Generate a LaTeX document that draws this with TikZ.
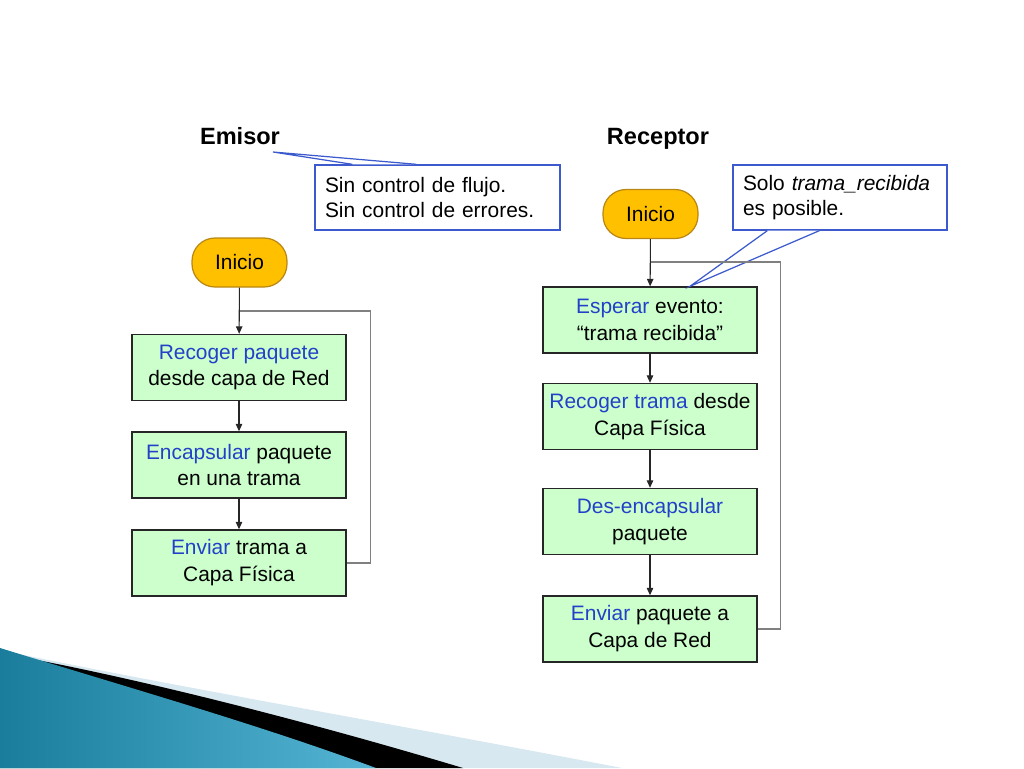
\documentclass[tikz,border=0pt]{standalone}
\usepackage{fontspec}
\setmainfont{Liberation Sans}
\usepackage{tikz}
\usetikzlibrary{arrows.meta, positioning}
\definecolor{verbblue}{RGB}{35,65,200}
\definecolor{boxgreen}{RGB}{204,255,204}
\definecolor{startyellow}{RGB}{255,192,0}
\definecolor{startedge}{RGB}{185,135,20}
\definecolor{noteblue}{RGB}{60,90,205}
\definecolor{swooshlight}{RGB}{215,232,240}
\definecolor{swooshdark}{RGB}{25,125,155}
\definecolor{swooshpale}{RGB}{85,180,212}
\tikzset{
    flowbox/.style={
        rectangle,
        draw=black!85,
        fill=boxgreen,
        line width=0.8pt,
        minimum width=4.28cm,
        minimum height=1.32cm,
        inner sep=0pt,
        align=center,
        font=\fontsize{11.9}{15.3}\selectfont
    },
    startnode/.style={
        rectangle,
        rounded corners=0.46cm,
        draw=startedge,
        fill=startyellow,
        line width=0.7pt,
        minimum width=1.9cm,
        minimum height=0.98cm,
        font=\fontsize{11.9}{15.3}\selectfont
    },
    notebox/.style={
        rectangle,
        draw=noteblue,
        fill=white,
        line width=0.8pt,
        minimum height=1.3cm,
        inner xsep=0.2cm,
        align=left,
        font=\fontsize{11.9}{14.2}\selectfont
    },
    notepointer/.style={draw=noteblue, fill=white, line width=0.7pt},
    sidetitle/.style={anchor=base, font=\bfseries\fontsize{13.4}{16}\selectfont},
    flowarrow/.style={-{Triangle[length=1.5mm, width=1.3mm]}, line width=0.6pt, draw=black!85},
    loopline/.style={line width=0.8pt, draw=gray}
}
\newcommand{\verbo}[1]{\textcolor{verbblue}{#1}}
\begin{document}
\begin{tikzpicture}[x=0.02cm, y=-0.02cm]

    \useasboundingbox (0,0) rectangle (1024,768);

    % esquina inferior
    \fill[swooshlight] (0,650) .. controls (150,682) and (400,725) .. (622,768) -- (0,768) -- cycle;
    \fill[black] (0,653) .. controls (150,680) and (330,728) .. (463,768) -- (0,768) -- cycle;
    \shade[left color=swooshdark, right color=swooshpale] (0,648) .. controls (130,688) and (260,725) .. (376,768) -- (0,768) -- cycle;

    % titulos
    \node[sidetitle] (emisor) at (240,144) {Emisor};
    \node[sidetitle] (receptor) at (658,144) {Receptor};

    % notas
    \node[notebox, text width=4.5cm] (note1) at (437.5,197.5) {
        Sin control de flujo.\\
        Sin control de errores.
    };
    \node[notebox, text width=3.88cm] (note2) at (840,197.5) {
        Solo \textit{trama\_recibida}\\
        es posible.
    };

    % emisor
    \node[startnode] (inicioE) at (239.5,262.5) {Inicio};
    \node[flowbox] (recogerE) at (239,367.5) {\verbo{Recoger paquete}\\ desde capa de Red};
    \node[flowbox] (encapE) at (239,465) {\verbo{Encapsular} paquete\\ en una trama};
    \node[flowbox] (enviarE) at (239,563) {\verbo{Enviar} trama a\\ Capa Física};

    % receptor
    \node[startnode] (inicioR) at (650.5,214) {Inicio};
    \node[flowbox] (esperarR) at (650,320) {\verbo{Esperar} evento:\\ “trama recibida”};
    \node[flowbox] (recogerR) at (650,416.5) {\verbo{Recoger trama} desde\\ Capa Física};
    \node[flowbox] (desencR) at (650,521.5) {\verbo{Des-encapsular}\\ paquete};
    \node[flowbox] (enviarR) at (650,629) {\verbo{Enviar} paquete a\\ Capa de Red};

    \coordinate (tipE) at (273,152);
    \draw[notepointer]
        ([xshift=0.76cm]note1.north west) -- (tipE) -- ([xshift=2.04cm]note1.north west);
    \draw[notepointer]
        ([xshift=0.7cm]note2.south west) -- ([xshift=0.8cm]esperarR.north) -- ([xshift=1.74cm]note2.south west);

    \draw[flowarrow] (inicioE) -- (recogerE);
    \draw[flowarrow] (recogerE) -- (encapE);
    \draw[flowarrow] (encapE) -- (enviarE);

    \draw[flowarrow] (inicioR) -- (esperarR);
    \draw[flowarrow] (esperarR) -- (recogerR);
    \draw[flowarrow] (recogerR) -- (desencR);
    \draw[flowarrow] (desencR) -- (enviarR);

    \coordinate (joinE) at (239.5,311);
    \coordinate (joinR) at (650.5,262);
    \draw[loopline] (enviarE.east) -- ++(24,0) |- (joinE);
    \draw[loopline] (enviarR.east) -- ++(23,0) |- (joinR);

\end{tikzpicture}
\end{document}
